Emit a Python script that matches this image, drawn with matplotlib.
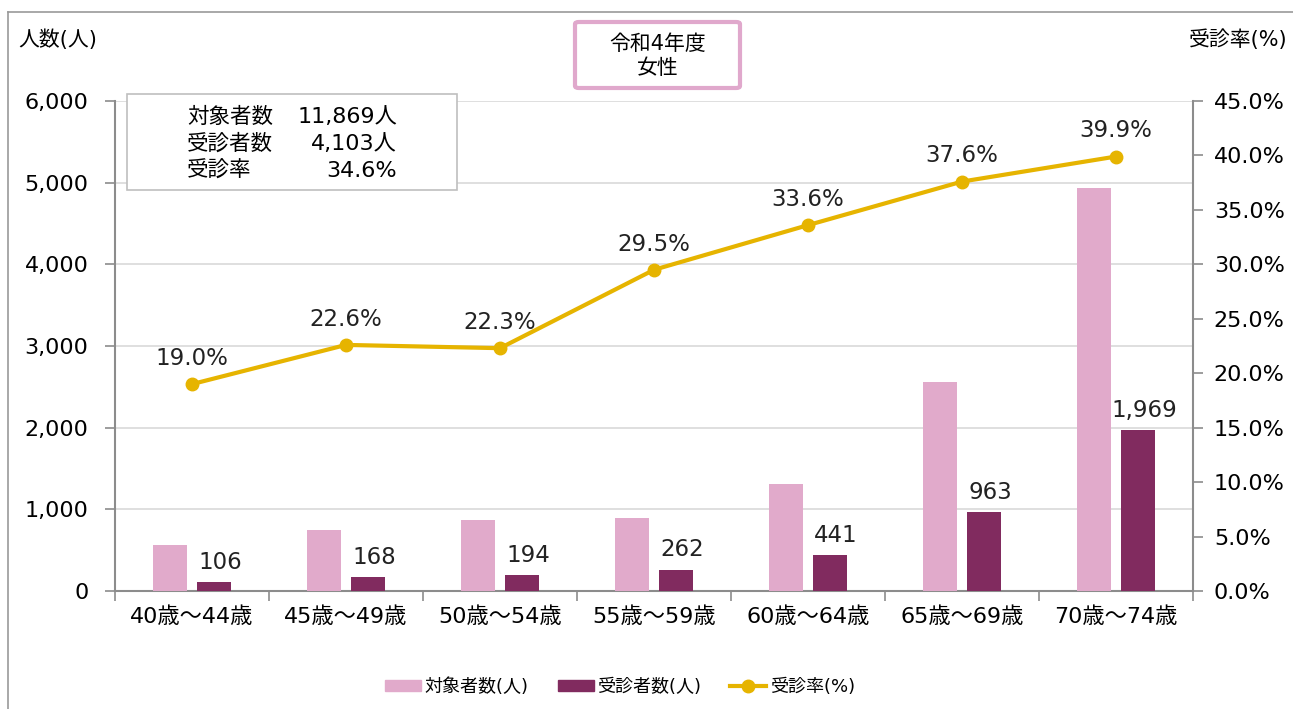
import matplotlib
matplotlib.use("Agg")
import matplotlib.pyplot as plt
from matplotlib.patches import Rectangle, FancyBboxPatch
from matplotlib.lines import Line2D
from matplotlib.ticker import FuncFormatter, MultipleLocator
import numpy as np

plt.rcParams['font.family'] = ['DejaVu Sans', 'Noto Sans CJK JP']

# data
age_groups = ["40歳～44歳", "45歳～49歳", "50歳～54歳", "55歳～59歳",
              "60歳～64歳", "65歳～69歳", "70歳～74歳"]
targets = [558, 743, 870, 888, 1312, 2561, 4937]
examined = [106, 168, 194, 262, 441, 963, 1969]
rates = [19.0, 22.6, 22.3, 29.5, 33.6, 37.6, 39.9]

summary_labels = ["対象者数", "受診者数", "受診率"]
summary_values = ["11,869人", "4,103人", "34.6%"]

pink = "#E1AACB"
purple = "#812B5F"
gold = "#E6B400"
axis_gray = "#8C8C8C"

W, H = 1293, 709
def fx(x):
    return x / W
def fy(y):
    return 1 - y / H

fig = plt.figure(figsize=(W / 100, H / 100), dpi=100)
ax = fig.add_axes([fx(115), fy(591), fx(1193) - fx(115), fy(101) - fy(591)])
ax2 = ax.twinx()

x = np.arange(len(age_groups))
bw = 0.225
off = 0.142
ax.bar(x - off, targets, bw, color=pink, zorder=3)
ax.bar(x + off, examined, bw, color=purple, zorder=3)
for xi, v in zip(x, examined):
    ax.text(xi + off + 0.04, v + 100, f"{v:,}", ha="center", va="bottom", fontsize=16.5, color="#222222")

ax.set_xlim(-0.5, len(age_groups) - 0.5)
ax.set_ylim(0, 6000)
ax.yaxis.set_major_locator(MultipleLocator(1000))
ax.yaxis.set_major_formatter(FuncFormatter(lambda v, p: f"{int(v):,}"))
ax.grid(axis="y", color="#D9D9D9", linewidth=1.2, zorder=0)
ax.set_xticks(x)
ax.set_xticklabels(age_groups, fontsize=16)
ax.set_xticks(np.arange(-0.5, len(age_groups)), minor=True)
ax.tick_params(axis="x", which="major", length=0, pad=11)
ax.tick_params(axis="x", which="minor", length=7, color=axis_gray, width=1.2)
ax.tick_params(axis="y", length=7, color=axis_gray, width=1.2, labelsize=16, pad=12)
for s in ["top", "right"]:
    ax.spines[s].set_visible(False)
for s in ["left", "bottom"]:
    ax.spines[s].set_color(axis_gray)
    ax.spines[s].set_linewidth(1.5)

ax2.plot(x, rates, color=gold, linewidth=3, marker="o", markersize=9, zorder=4)
for xi, r in zip(x, rates):
    ax2.text(xi, r + 1.3, f"{r:.1f}%", ha="center", va="bottom", fontsize=16.5, color="#222222")
ax2.set_ylim(0, 45)
ax2.yaxis.set_major_locator(MultipleLocator(5))
ax2.yaxis.set_major_formatter(FuncFormatter(lambda v, p: f"{v:.1f}%"))
ax2.tick_params(axis="y", length=7, color=axis_gray, width=1.2, labelsize=16, pad=8)
for s in ["top", "left", "bottom"]:
    ax2.spines[s].set_visible(False)
ax2.spines["right"].set_color(axis_gray)
ax2.spines["right"].set_linewidth(1.5)

# axis titles
fig.text(fx(18), fy(40), "人数(人)", fontsize=15, ha="left", va="center")
fig.text(fx(1288), fy(40), "受診率(%)", fontsize=15, ha="right", va="center")

# outer frame (top and left)
fig.add_artist(Line2D([fx(8), 1], [fy(12), fy(12)], transform=fig.transFigure, color="#999999", linewidth=1.2))
fig.add_artist(Line2D([fx(8), fx(8)], [fy(12), 0], transform=fig.transFigure, color="#999999", linewidth=1.2))

# title box
tb = FancyBboxPatch((fx(575), fy(88)), fx(740) - fx(575), fy(22) - fy(88),
                    boxstyle="round,pad=0,rounding_size=0.003", transform=fig.transFigure,
                    facecolor="white", edgecolor="#E0A8CC", linewidth=3)
fig.add_artist(tb)
fig.text(fx(658), fy(56), "令和4年度\n女性", fontsize=15, ha="center", va="center", linespacing=1.3)

# summary box
sb = Rectangle((fx(127), fy(190)), fx(457) - fx(127), fy(94) - fy(190), transform=fig.transFigure,
               facecolor="white", edgecolor="#BFBFBF", linewidth=1.2)
fig.add_artist(sb)
for i, (lab, val) in enumerate(zip(summary_labels, summary_values)):
    yy = fy(117 + i * 27)
    fig.text(fx(187), yy, lab, fontsize=15.5, ha="left", va="center")
    fig.text(fx(397), yy, val, fontsize=16, ha="right", va="center")

# legend
handles = [Rectangle((0, 0), 1, 1, color=pink),
           Rectangle((0, 0), 1, 1, color=purple),
           Line2D([], [], color=gold, linewidth=3, marker="o", markersize=9)]
fig.legend(handles, ["対象者数(人)", "受診者数(人)", "受診率(%)"], loc="center",
           bbox_to_anchor=(fx(620), fy(687)), ncol=3, frameon=False, fontsize=13,
           handlelength=2.0, handleheight=0.55, columnspacing=1.6, handletextpad=0.2)

fig.savefig("out.png", dpi=100)
